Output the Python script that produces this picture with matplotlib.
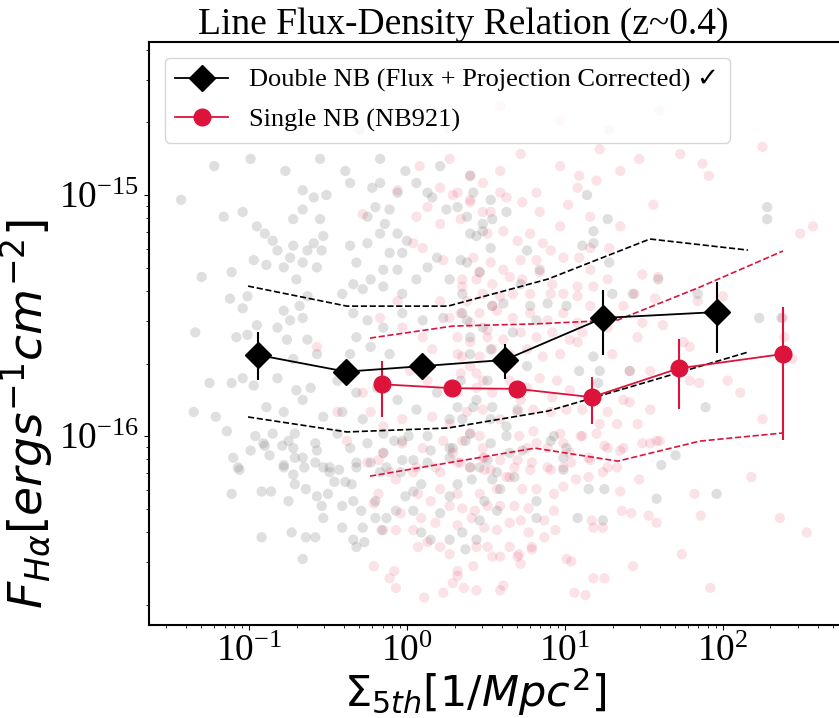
import numpy as np
import matplotlib
matplotlib.use("Agg")
import matplotlib.pyplot as plt

plt.rcParams['font.family'] = ['Liberation Serif', 'DejaVu Sans']
plt.rcParams['mathtext.fontset'] = 'dejavusans'

# binned medians (Double NB, flux + projection corrected)
dbl_sigma = [0.114, 0.411, 1.245, 4.17, 17.4, 91.6]
dbl_flux = [2.17e-16, 1.85e-16, 1.95e-16, 2.07e-16, 3.09e-16, 3.27e-16]
dbl_hi = [2.70e-16, 1.99e-16, 2.11e-16, 2.41e-16, 4.04e-16, 4.36e-16]
dbl_lo = [1.71e-16, 1.71e-16, 1.81e-16, 1.73e-16, 2.17e-16, 2.21e-16]

# binned medians (Single NB, NB921)
sgl_sigma = [0.695, 1.93, 4.97, 14.8, 52.7, 240]
sgl_flux = [1.64e-16, 1.58e-16, 1.57e-16, 1.45e-16, 1.91e-16, 2.19e-16]
sgl_hi = [2.05e-16, 1.69e-16, 1.68e-16, 1.76e-16, 2.52e-16, 3.43e-16]
sgl_lo = [1.20e-16, 1.48e-16, 1.47e-16, 1.12e-16, 1.29e-16, 9.62e-17]

# percentile envelopes
dbl_band_sigma = [0.0986, 0.417, 1.815, 7.80, 34.5, 144]
dbl_band_hi = [4.19e-16, 3.46e-16, 3.46e-16, 4.48e-16, 6.57e-16, 5.91e-16]
dbl_band_lo = [1.20e-16, 1.04e-16, 1.08e-16, 1.27e-16, 1.69e-16, 2.23e-16]
sgl_band_sigma = [0.583, 1.95, 6.46, 21.6, 71.5, 240]
sgl_band_hi = [2.55e-16, 2.86e-16, 2.92e-16, 3.03e-16, 4.15e-16, 5.86e-16]
sgl_band_lo = [6.82e-17, 7.80e-17, 8.91e-17, 7.87e-17, 9.53e-17, 1.03e-16]

# individual galaxies, log10(Sigma_5th) and log10(F_Halpha)
gray_lsig = [
    -1.43, -1.30, -1.34, -1.25, -1.35, -1.21, -1.14, -1.11, -1.16, -1.04,
    -0.95, -0.90, -0.85, -0.97, -0.89, -1.12, -1.01, -1.04, -1.08, -1.01,
    -0.95, -1.11, -1.04, -0.97, -0.89, -0.82, -0.78, -1.10, -1.07, -0.99,
    -0.91, -0.78, -0.72, -0.66, -0.57, -0.53, -0.53, -0.66, -0.70, -0.61,
    -0.72, -0.63, -0.57, -0.76, -0.82, -0.74, -0.66, -0.78, -0.68, -0.63,
    -0.70, -0.78, -0.66, -0.74, -0.82, -0.72, -0.63, -0.59, -0.57, -0.53,
    -0.54, -0.55, -0.72, -0.66, -0.59, -0.51, -0.66, -0.36, -0.22, -0.17,
    -0.06, 0.06, 0.13, -0.20, -0.11, -0.25, -0.14, -0.06, -0.17, 0.00,
    -0.36, -0.25, -0.11, -0.03, -0.32, -0.15, -0.06, 0.06, -0.23, -0.34,
    -0.41, -0.28, -0.15, -0.03, 0.13, 0.19, 0.27, 0.38, 0.44, 0.48,
    0.38, 0.25, 0.16, 0.42, 0.53, -0.34, -0.25, -0.15, -0.03, 0.10,
    0.23, 0.35, 0.48, 0.40, -0.32, -0.23, -0.36, -0.11, -0.44, -0.32,
    -0.19, -0.06, 0.06, 0.19, 0.32, 0.44, 0.54, -0.41, -0.28, -0.15,
    -0.03, 0.13, 0.27, 0.40, 0.53, -0.44, -0.36, -0.25, -0.15, -0.03,
    0.13, 0.27, 0.40, 0.51, -0.49, -0.32, -0.17, -0.96, -0.85, -0.71,
    -1.06, -0.90, -0.87, -0.79, -0.78, -0.75, -0.71, -1.11, -0.92, -0.86,
    -0.75, -0.72, -0.71, -0.65, -0.64, -0.58, -0.58, -0.57, -0.54, -0.53,
    -0.50, -0.49, -0.46, -0.43, -0.41, -0.39, -0.35, -0.34, -0.32, -0.29,
    -0.28, -0.41, -0.34, -0.32, -0.27, -0.73, -0.64, -0.58, -0.92, -0.66,
    -0.23, -0.20, -0.13, -0.20, -0.16, -0.07, -0.01, 0.04, 0.04, -0.04,
    0.09, -0.13, -0.08, 0.04, 0.15, 0.21, 0.27, 0.32, 0.41, 0.49,
    0.54, 0.09, 0.15, 0.27, 0.35, 0.46, 0.57, 0.59, 0.68, 0.82,
    0.82, 0.99, 0.99, 1.15, 1.24, 1.25, 1.58, 1.61, 1.70, 1.96,
    1.08, 0.01, 0.27, 0.37, 0.63, 0.73, 0.93, 0.37, 0.44, 1.14,
    1.27, 1.18, 1.18, 1.11, 1.28, 1.30, 1.59, 1.43, 1.84, 2.28,
    2.28, 2.23, 2.37, 1.89, 1.41, 1.22, 1.18, 1.09, 1.21, 0.91,
    1.01, 0.65, 0.57, 0.46, 0.29, 0.35, 0.42, 0.53, 0.63, 0.70,
    0.51, 0.34, 0.40, 0.38, 0.54, 0.35, 0.46, 0.34, 0.53, 0.40,
    0.54, 0.32, 0.63, 0.48, 0.76, 0.84, 0.72, 0.61, 0.78, 0.67,
    0.76, 0.53, 0.89, 1.01, 0.82, -1.22, -0.99, -0.77, -0.55, -0.39,
    -0.17, -0.01, 0.21, 0.40, -0.68, -0.30, 0.08,
]
gray_lflux = [
    -15.02, -15.34, -15.57, -15.78, -15.90, -15.92, -15.98, -15.32, -15.09, -15.07,
    -15.13, -15.16, -15.19, -15.27, -15.29, -15.43, -15.42, -15.47, -15.59, -15.58,
    -15.54, -15.78, -15.76, -15.79, -15.88, -15.76, -15.90, -16.09, -16.13, -16.06,
    -16.03, -16.13, -16.05, -16.09, -16.06, -16.13, -15.92, -15.85, -15.81, -15.80,
    -15.68, -15.60, -15.66, -15.60, -15.55, -15.52, -15.51, -15.48, -15.46, -15.42,
    -15.35, -15.30, -15.28, -15.26, -15.23, -15.21, -15.23, -15.20, -15.30, -15.17,
    -15.23, -15.10, -15.10, -15.06, -15.01, -15.00, -14.98, -14.95, -14.97, -14.95,
    -14.99, -14.95, -14.99, -15.05, -15.06, -15.09, -15.12, -15.16, -15.16, -15.19,
    -15.21, -15.20, -15.24, -15.24, -15.28, -15.31, -15.31, -15.35, -15.35, -15.37,
    -15.41, -15.39, -15.38, -15.41, -15.30, -15.26, -15.35, -15.28, -15.17, -15.12,
    -15.09, -15.06, -15.01, -14.99, -15.02, -15.49, -15.52, -15.55, -15.49, -15.52,
    -15.51, -15.49, -15.55, -15.59, -15.59, -15.63, -15.66, -15.66, -15.77, -15.82,
    -15.80, -15.85, -15.89, -15.82, -15.88, -15.85, -15.88, -15.90, -15.93, -15.99,
    -16.02, -16.00, -15.93, -15.99, -16.03, -15.99, -16.05, -16.03, -16.07, -16.10,
    -16.11, -16.09, -16.13, -16.10, -16.13, -16.13, -16.15, -16.00, -15.99, -15.99,
    -16.14, -16.04, -16.08, -16.04, -16.12, -16.02, -16.09, -16.24, -16.23, -16.23,
    -16.27, -16.16, -16.20, -16.13, -16.22, -16.11, -16.03, -16.25, -16.29, -16.34,
    -16.24, -16.15, -16.19, -16.14, -16.29, -16.19, -16.20, -16.27, -16.11, -16.31,
    -16.38, -16.38, -16.43, -16.46, -16.44, -16.40, -16.42, -16.42, -16.42, -16.51,
    -16.11, -16.27, -16.34, -16.34, -16.39, -16.31, -16.25, -16.23, -16.31, -16.15,
    -16.20, -16.13, -16.02, -16.10, -16.06, -16.32, -16.25, -16.20, -16.18, -16.27,
    -16.18, -16.40, -16.43, -16.43, -16.40, -16.35, -16.31, -16.22, -16.17, -16.34,
    -16.27, -16.09, -16.14, -16.22, -16.35, -16.22, -16.26, -16.12, -16.08, -16.24,
    -16.34, -16.00, -16.05, -16.02, -16.00, -16.06, -16.00, -16.47, -16.43, -15.00,
    -15.10, -15.15, -15.20, -15.21, -15.28, -15.41, -15.35, -15.41, -15.41, -15.05,
    -15.10, -15.51, -15.51, -15.88, -15.73, -15.73, -15.67, -15.73, -15.78, -16.02,
    -16.05, -16.07, -16.15, -16.13, -16.05, -15.93, -15.88, -15.93, -15.96, -15.89,
    -15.77, -15.77, -15.66, -15.52, -15.46, -15.41, -15.32, -15.27, -15.22, -15.16,
    -15.10, -15.05, -15.07, -15.15, -15.23, -15.31, -15.37, -15.45, -15.46, -15.57,
    -15.71, -15.64, -15.45, -15.46, -15.52, -14.88, -14.85, -14.90, -14.85, -14.90,
    -14.85, -14.90, -14.88, -14.92, -14.71, -14.73, -14.69,
]
pink_lsig = [
    -0.21, -0.08, -0.11, -0.07, 0.11, 0.23, 0.36, 0.44, 0.61, 0.59,
    0.42, 0.32, 0.29, 0.72, 0.70, 0.79, 1.01, 1.04, 1.06, 1.13,
    1.18, 1.25, 1.43, 1.74, 1.92, 2.18, 2.36, 2.53, 1.86, 1.58,
    1.53, 1.42, 1.36, 1.35, 1.47, 1.82, 1.60, 1.54, 1.25, 1.18,
    1.24, 1.17, 0.93, 0.94, 0.87, 0.77, 0.79, 0.71, 0.65, 0.59,
    0.54, 0.51, 0.44, 0.32, 0.27, 0.21, 0.13, 0.07, 0.04, 0.09,
    0.18, 0.32, 0.41, 0.49, 0.57, 0.65, 0.72, 0.77, 0.68, 0.59,
    0.51, 0.43, 0.35, 0.27, 0.15, 0.07, -0.07, -0.15, -0.21, -0.18,
    -0.04, 0.87, 0.93, 0.99, 1.07, 1.15, 0.82, 0.73, 0.57, 0.46,
    0.32, 0.21, 0.68, 0.79, 0.91, 1.04, 1.15, 1.27, 1.35, 1.10,
    0.99, 0.82, 0.71, 0.49, 0.32, 0.18, 0.04, -0.07, -0.18, 0.49,
    0.63, 1.08, 1.20, 1.56, 2.57, 2.49, 1.02, 0.84, 0.73, 0.82,
    0.59, 0.63, 0.48, 0.40, 0.32, 0.34, 0.51, 0.61, 0.70, 0.78,
    0.86, 0.97, 1.16, 1.35, 1.28, 1.16, 1.09, 0.99, 0.91, 0.82,
    0.72, 0.61, 0.53, 0.42, 0.35, 0.44, 0.54, 0.65, 0.73, 0.84,
    0.92, 0.99, 1.08, 1.18, 1.27, 1.16, 1.49, 1.59, 1.44, 1.57,
    1.62, 1.49, 1.37, 1.16, 1.08, 0.91, 0.78, 0.67, 0.59, 0.48,
    0.38, 0.34, 0.46, 0.57, 0.67, 0.78, 0.89, 0.99, 1.08, 1.11,
    1.03, 0.92, 0.82, 0.72, 0.61, 0.51, 0.40, 0.32, 0.35, 0.46,
    0.54, 0.65, 0.76, 0.86, 0.97, 1.08, 1.30, 1.27, 1.46, 1.79,
    1.75, 2.00, 1.84, 1.54, 1.41, 1.37, 1.41, 1.54, 1.79, 1.85,
    2.03, 2.11, 2.25, 2.44, 2.39, 2.38, 1.27, 1.22, 1.33, 1.46,
    1.11, 1.20, 1.27, 1.37, 1.49, 1.58, 1.03, 1.16, 1.24, 1.33,
    0.99, 0.89, 0.97, 0.80, 0.76, 0.70, 0.59, 0.48, 0.40, 0.29,
    0.40, 0.53, 0.65, 0.78, 0.89, 0.59, 0.70, 0.80, 0.91, 1.01,
    1.11, 0.48, 0.38, 0.32, 0.44, 0.54, 0.65, 0.76, 0.84, 0.95,
    1.03, 0.92, 0.72, 0.44, 0.34, -0.28, -0.06, 0.06, 0.13, 0.21,
    0.29, 0.40, 0.48, 0.53, 0.21, 0.10, 0.04, 0.23, 0.35, 0.46,
    0.54, 0.21, 0.27, 0.40, 0.51, 0.10, -0.03, -0.06, -0.17, 0.16,
    0.32, 0.40, 0.48, 0.02, 0.13, -0.28, -0.23, -0.15, -0.03, 0.16,
    0.27, 0.35, 0.46, 0.23, 0.10, -0.03, -0.15, -0.25, -0.11, 0.06,
    0.21, 0.34, 0.48, -0.38, -0.44, -0.57, 2.25, 1.87, 1.91, 0.27,
    0.72, 0.97, 1.22, 1.47, 1.73, 0.40, 0.08, 0.59, 1.09, 1.35,
    0.97, 1.28, 1.60, 0.59, 0.27,
]
pink_lflux = [
    -16.54, -16.56, -16.59, -16.63, -16.67, -16.65, -16.63, -16.64, -16.62, -16.64,
    -16.54, -16.58, -16.61, -16.53, -16.50, -16.47, -16.51, -16.52, -16.65, -16.66,
    -16.59, -16.59, -16.54, -16.49, -16.63, -16.17, -16.34, -16.40, -16.33, -16.36,
    -16.33, -16.32, -16.31, -16.23, -16.18, -16.24, -16.02, -16.03, -16.04, -16.38,
    -16.38, -16.35, -16.31, -16.39, -16.42, -16.40, -16.46, -16.49, -16.46, -16.50,
    -16.50, -16.46, -16.46, -16.56, -16.49, -16.46, -16.44, -16.46, -16.39, -16.34,
    -16.36, -16.37, -16.34, -16.38, -16.39, -16.36, -16.35, -16.30, -16.29, -16.29,
    -16.29, -16.31, -16.30, -16.29, -16.27, -16.24, -16.39, -16.39, -16.28, -16.24,
    -16.32, -16.35, -16.24, -16.21, -16.18, -16.17, -16.22, -16.22, -16.22, -16.24,
    -16.24, -16.22, -16.13, -16.11, -16.14, -16.11, -16.09, -16.13, -16.06, -16.00,
    -16.03, -16.03, -16.00, -16.09, -16.11, -16.13, -16.15, -16.18, -16.10, -16.14,
    -16.17, -14.97, -14.94, -15.04, -15.13, -15.16, -15.04, -15.07, -15.03, -14.99,
    -14.99, -15.01, -15.07, -15.02, -14.99, -15.10, -15.16, -15.15, -15.19, -15.16,
    -15.20, -15.13, -15.09, -15.13, -15.22, -15.22, -15.26, -15.26, -15.23, -15.27,
    -15.27, -15.31, -15.28, -15.26, -15.35, -15.35, -15.37, -15.34, -15.35, -15.32,
    -15.37, -15.41, -15.38, -15.38, -15.35, -15.31, -15.33, -15.34, -15.41, -15.43,
    -15.54, -15.53, -15.46, -15.46, -15.42, -15.41, -15.41, -15.41, -15.42, -15.41,
    -15.44, -15.49, -15.49, -15.48, -15.51, -15.49, -15.52, -15.49, -15.53, -15.57,
    -15.60, -15.57, -15.59, -15.57, -15.60, -15.59, -15.61, -15.59, -15.67, -15.67,
    -15.64, -15.66, -15.64, -15.67, -15.66, -15.61, -15.66, -15.55, -15.59, -15.63,
    -15.61, -15.42, -15.44, -15.73, -15.73, -15.85, -15.86, -15.89, -15.77, -15.78,
    -15.77, -15.82, -15.93, -15.68, -15.59, -15.51, -15.90, -15.95, -15.95, -15.95,
    -16.00, -15.99, -16.05, -16.05, -16.03, -16.02, -16.07, -16.10, -16.15, -16.13,
    -16.13, -16.05, -15.99, -15.98, -16.05, -16.10, -16.10, -16.05, -15.99, -16.07,
    -16.13, -16.14, -16.17, -16.14, -16.13, -15.93, -15.90, -15.89, -15.90, -15.89,
    -15.89, -15.89, -15.90, -15.82, -15.80, -15.82, -15.77, -15.80, -15.76, -15.77,
    -15.81, -15.84, -15.85, -15.74, -15.74, -15.08, -14.98, -15.09, -15.05, -14.97,
    -15.00, -15.03, -14.95, -15.07, -15.12, -15.22, -15.20, -15.27, -15.38, -15.32,
    -15.46, -15.44, -15.51, -15.53, -15.56, -15.59, -15.55, -15.44, -15.51, -15.64,
    -15.66, -15.71, -15.77, -15.73, -15.77, -15.82, -15.90, -15.96, -15.93, -15.92,
    -15.95, -16.02, -16.00, -16.02, -16.05, -16.03, -16.07, -16.11, -16.15, -16.13,
    -16.15, -16.11, -16.09, -16.02, -15.90, -15.63, -14.80, -14.87, -14.92, -14.85,
    -14.83, -14.88, -14.81, -14.85, -14.83, -14.92, -14.88, -14.90, -14.92, -14.90,
    -14.69, -14.73, -14.65, -14.63, -14.73,
]

red = '#dc143c'

fig = plt.figure(figsize=(8.39, 7.18), dpi=100)
ax = fig.add_axes([0.1776, 0.1295, 0.852, 0.812])

ax.scatter(10**np.array(gray_lsig), 10**np.array(gray_lflux), s=55, color='grey',
           alpha=0.25, edgecolors='none', zorder=1)
ax.scatter(10**np.array(pink_lsig), 10**np.array(pink_lflux), s=55, color=red,
           alpha=0.12, edgecolors='none', zorder=1)

# envelopes
ax.plot(dbl_band_sigma, dbl_band_hi, 'k--', lw=1.2, zorder=2)
ax.plot(dbl_band_sigma, dbl_band_lo, 'k--', lw=1.2, zorder=2)
ax.plot(sgl_band_sigma, sgl_band_hi, '--', color=red, lw=1.2, zorder=2)
ax.plot(sgl_band_sigma, sgl_band_lo, '--', color=red, lw=1.2, zorder=2)

# medians with error bars
dbl_err = [np.array(dbl_flux) - np.array(dbl_lo), np.array(dbl_hi) - np.array(dbl_flux)]
sgl_err = [np.array(sgl_flux) - np.array(sgl_lo), np.array(sgl_hi) - np.array(sgl_flux)]
ax.errorbar(dbl_sigma, dbl_flux, yerr=dbl_err, fmt='none', ecolor='k', elinewidth=1.5, zorder=3)
ax.errorbar(sgl_sigma, sgl_flux, yerr=sgl_err, fmt='none', ecolor=red, elinewidth=1.5, zorder=3)
ax.plot(dbl_sigma, dbl_flux, 'k-', marker='D', ms=13, lw=1.3, zorder=4,
        label='Double NB (Flux + Projection Corrected) \u2713')
ax.plot(sgl_sigma, sgl_flux, '-', color=red, marker='o', ms=12, lw=1.3, zorder=4,
        label='Single NB (NB921)')

ax.set_xscale('log')
ax.set_yscale('log')
ax.set_xlim(10**-1.633, 10**2.892)
ax.set_ylim(10**-16.784, 10**-14.365)

ax.set_title('Line Flux-Density Relation (z~0.4)', fontsize=27, x=0.44)
ax.set_xlabel(r'$\Sigma_{5th}[1/Mpc^2]$', fontsize=31)
ax.set_ylabel(r'$F_{H\alpha}[ergs^{-1}cm^{-2}]$', fontsize=34)
ax.xaxis.set_label_coords(0.457, -0.072)
ax.yaxis.set_label_coords(-0.131, 0.362)
ax.tick_params(axis='both', which='major', labelsize=27)
for s in ax.spines.values():
    s.set_linewidth(1.5)

ax.legend(loc='upper left', fontsize=19, borderaxespad=0.6, labelspacing=0.6)

fig.savefig('out.png', dpi=100)
